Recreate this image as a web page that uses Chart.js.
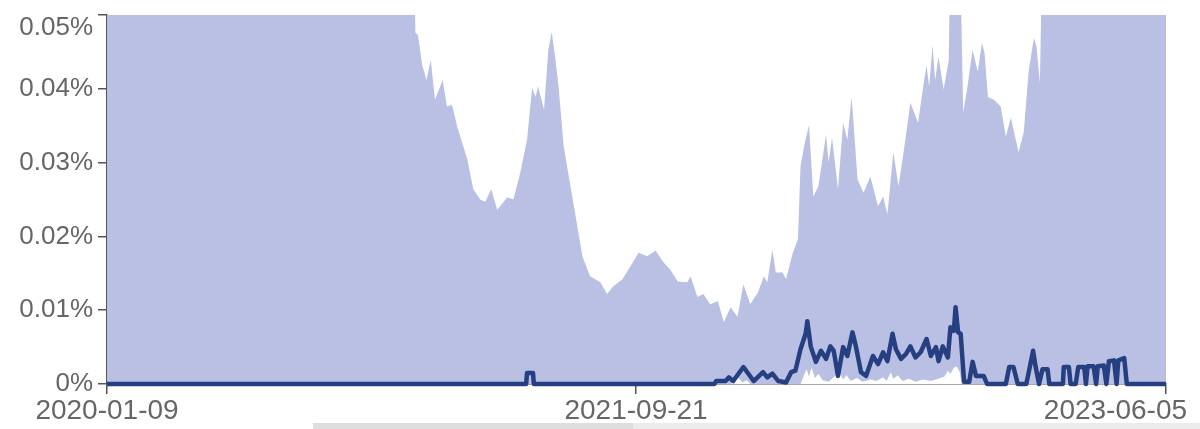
<!DOCTYPE html>
<html lang="en">
<head>
    <meta charset="UTF-8">
    <title>Share chart</title>
    <script src="https://cdn.jsdelivr.net/npm/chart.js"></script>
    <style>
        body { margin: 0; background: #fff; }
        .box { position: relative; width: 1200px; height: 429px; }
        .scroll { position: absolute; left: 313px; top: 423px; width: 887px; height: 6px;
                  background: linear-gradient(to right, #dedede 0, #dedede 320px, #ebebeb 320px); }
    </style>
</head>
<body>
    <div class="box">
        <canvas id="grafico"></canvas>
        <div class="scroll"></div>
    </div>

<script>
    // days counted from 2020-01-09, values in percent
    var xTickDays = [0, 621, 1243];
    var xTickLabels = ['2020-01-09', '2021-09-21', '2023-06-05'];
    var yTickValues = [0, 0.01, 0.02, 0.03, 0.04, 0.05];

    // upper edge of the shaded band (above 0.05% is cut off in the picture)
    var upperDays = [0, 227, 360, 362, 365, 370, 375, 380, 385, 394, 399, 405, 411, 417, 423, 430, 438, 444, 451, 458,
        470, 477, 485, 493, 499, 503, 506, 513, 518, 522, 526, 530, 536, 544, 552, 558, 567, 579, 587, 594,
        605, 614, 624, 634, 644, 653, 661, 670, 681, 685, 693, 700, 708, 717, 724, 732, 740, 747, 755, 764,
        771, 775, 781, 785, 793, 797, 805, 811, 814, 819, 824, 829, 835, 844, 847, 851, 858, 864, 869, 874,
        881, 888, 896, 905, 911, 916, 923, 929, 935, 943, 952, 958, 962, 965, 969, 972, 976, 982, 988, 990,
        1001, 1005, 1010, 1016, 1022, 1027, 1030, 1034, 1041, 1049, 1055, 1061, 1064, 1070, 1076, 1082, 1088, 1091, 1095, 1098,
        1243];
    var upperPct = [0.06, 0.06, 0.06, 0.0476, 0.0473, 0.0432, 0.0412, 0.0439, 0.0385, 0.0412, 0.0376, 0.0378, 0.0349, 0.0327, 0.0304, 0.0264, 0.0250, 0.0247, 0.0264, 0.0236,
        0.0253, 0.0250, 0.0286, 0.0331, 0.0401, 0.0389, 0.0403, 0.0372, 0.0453, 0.0477, 0.0443, 0.0403, 0.0322, 0.0268, 0.0214, 0.0173, 0.0146, 0.0138, 0.0122, 0.0132,
        0.0142, 0.0159, 0.0178, 0.0173, 0.0181, 0.0165, 0.0155, 0.0139, 0.0138, 0.0146, 0.0118, 0.0122, 0.0108, 0.0112, 0.0084, 0.0104, 0.0091, 0.0135, 0.0108, 0.0124,
        0.0146, 0.0138, 0.0182, 0.0151, 0.0151, 0.0142, 0.0178, 0.0196, 0.0295, 0.0327, 0.0351, 0.0254, 0.0268, 0.0338, 0.0300, 0.0334, 0.0264, 0.0354, 0.0331, 0.0389,
        0.0277, 0.0259, 0.0281, 0.0241, 0.0254, 0.0230, 0.0314, 0.0268, 0.0314, 0.0381, 0.0354, 0.0403, 0.0432, 0.0403, 0.0459, 0.0412, 0.0443, 0.0399, 0.0439, 0.06,
        0.06, 0.0368, 0.0403, 0.0453, 0.0423, 0.0462, 0.0449, 0.0389, 0.0385, 0.0376, 0.0335, 0.0361, 0.0345, 0.0314, 0.0341, 0.0426, 0.0469, 0.0457, 0.0408, 0.06,
        0.06];

    // lower edge of the shaded band
    var lowerDays = [0, 732, 735, 741, 746, 751, 755, 814, 818, 821, 824, 827, 831, 835, 840, 847, 853, 859, 864, 868,
        873, 880, 887, 896, 903, 911, 915, 920, 923, 928, 934, 941, 949, 958, 967, 976, 983, 987, 990, 994,
        997, 1001, 1003, 1243];
    var lowerPct = [0, 0, 0.0003, 0.0008, 0.0002, 0.0005, 0, 0, 0.0012, 0.0020, 0.0010, 0.0022, 0.0008, 0.0014, 0.0005, 0.0003, 0.0009, 0.0018, 0.0006, 0.0012,
        0.0004, 0.0008, 0.0003, 0.0006, 0.0004, 0.0009, 0.0004, 0.0016, 0.0007, 0.0012, 0.0004, 0.0007, 0.0003, 0.0006, 0.0004, 0.0007, 0.0010, 0.0018, 0.0014, 0.0022,
        0.0024, 0.0016, 0, 0];

    // estimate line
    var lineDays = [0, 492, 493, 500, 501, 713, 715, 726, 730, 735, 747, 759, 770, 775, 781, 788, 797, 803, 808, 814,
        820, 822, 826, 832, 838, 844, 849, 853, 858, 864, 869, 875, 879, 885, 891, 899, 905, 911, 916, 922,
        926, 932, 938, 943, 949, 955, 962, 967, 973, 976, 981, 987, 990, 994, 996, 999, 1002, 1006, 1012, 1016,
        1020, 1029, 1033, 1055, 1059, 1064, 1069, 1079, 1081, 1087, 1090, 1094, 1098, 1104, 1106, 1122, 1123, 1129, 1131, 1137,
        1140, 1147, 1149, 1151, 1158, 1161, 1163, 1170, 1173, 1176, 1182, 1185, 1187, 1194, 1197, 1243];
    var linePct = [0, 0, 0.0015, 0.0015, 0, 0, 0.0004, 0.0004, 0.0009, 0.0004, 0.0023, 0.0004, 0.0016, 0.0009, 0.0014, 0.0004, 0.0002, 0.0016, 0.0018, 0.0047,
        0.0068, 0.0085, 0.0051, 0.0030, 0.0045, 0.0034, 0.0051, 0.0045, 0.0011, 0.0050, 0.0038, 0.0070, 0.0051, 0.0016, 0.0011, 0.0038, 0.0027, 0.0043, 0.0031, 0.0068,
        0.0047, 0.0034, 0.0041, 0.0051, 0.0036, 0.0043, 0.0061, 0.0038, 0.0050, 0.0031, 0.0051, 0.0036, 0.0077, 0.0072, 0.0104, 0.0070, 0.0068, 0.0003, 0.0003, 0.0030,
        0.0011, 0.0011, 0, 0, 0.0023, 0.0023, 0, 0, 0.0011, 0.0045, 0.0023, 0, 0.0020, 0.0020, 0, 0, 0.0023, 0.0023, 0, 0,
        0.0023, 0.0023, 0, 0.0024, 0.0024, 0, 0.0024, 0.0025, 0, 0.0031, 0.0032, 0, 0.0032, 0.0035, 0, 0];

    function pares(dias, valores) {
        var pontos = [];
        for (var i = 0; i < dias.length; i++) {
            pontos.push({ x: dias[i], y: valores[i] });
        }
        return pontos;
    }

    var corTexto = '#666666';
    var corEixo = '#555555';

    var config = {
        type: 'line',
        data: {
            datasets: [{
                label: 'estimate',
                data: pares(lineDays, linePct),
                borderColor: '#263f80',
                borderWidth: 4.5,
                borderJoinStyle: 'round',
                borderCapStyle: 'round',
                pointRadius: 0,
                tension: 0,
                fill: false,
                clip: { left: 0, top: 0, right: 0, bottom: 4 }
            }, {
                label: 'lower',
                data: pares(lowerDays, lowerPct),
                borderWidth: 0,
                borderColor: 'rgba(0,0,0,0)',
                backgroundColor: '#ffffff',
                pointRadius: 0,
                tension: 0,
                fill: 'origin'
            }, {
                label: 'upper',
                data: pares(upperDays, upperPct),
                borderWidth: 0,
                borderColor: 'rgba(0,0,0,0)',
                backgroundColor: '#b9c0e3',
                pointRadius: 0,
                tension: 0,
                fill: 'origin'
            }]
        },
        options: {
            responsive: true,
            maintainAspectRatio: false,
            animation: false,
            layout: { padding: { left: 0, right: 34, top: 15, bottom: 0 } },
            plugins: {
                legend: { display: false },
                tooltip: { enabled: false }
            },
            scales: {
                x: {
                    type: 'linear',
                    min: 0,
                    max: 1243,
                    afterBuildTicks: function (scale) {
                        scale.ticks = xTickDays.map(function (d) { return { value: d }; });
                    },
                    afterFit: function (scale) {
                        scale.height = 45;
                        scale.paddingLeft = 0;
                        scale.paddingRight = 0;
                    },
                    grid: { display: true, drawOnChartArea: false, tickLength: 10, color: corEixo, lineWidth: 1.5 },
                    border: { display: true, color: corEixo, width: 1.5 },
                    ticks: {
                        autoSkip: false,
                        maxRotation: 0,
                        padding: 0,
                        color: corTexto,
                        font: { family: 'Liberation Sans', size: 28 },
                        callback: function (value) {
                            var i = xTickDays.indexOf(value);
                            if (i === xTickDays.length - 1) {
                                // last label sits left of its tick so it stays inside the window
                                return xTickLabels[i] + '             ';
                            }
                            return xTickLabels[i];
                        }
                    }
                },
                y: {
                    min: 0,
                    max: 0.05,
                    afterBuildTicks: function (scale) {
                        scale.ticks = yTickValues.map(function (v) { return { value: v }; });
                    },
                    afterFit: function (scale) {
                        scale.width = 107;
                        scale.paddingTop = 0;
                        scale.paddingBottom = 0;
                    },
                    grid: { display: true, drawOnChartArea: false, tickLength: 9, color: corEixo, lineWidth: 1.5 },
                    border: { display: true, color: corEixo, width: 1.5 },
                    ticks: {
                        padding: 5,
                        color: corTexto,
                        font: { family: 'Liberation Sans', size: 26, lineHeight: 1.0 },
                        callback: function (value) {
                            var txt = value === 0 ? '0%' : value.toFixed(2) + '%';
                            // top label is pushed down so it is not cut at the top edge
                            if (value === yTickValues[yTickValues.length - 1]) {
                                return ['', txt];
                            }
                            return txt;
                        }
                    }
                }
            }
        }
    };

    var ctx = document.getElementById('grafico').getContext('2d');
    var meuGrafico = new Chart(ctx, config);
</script>
</body>
</html>
